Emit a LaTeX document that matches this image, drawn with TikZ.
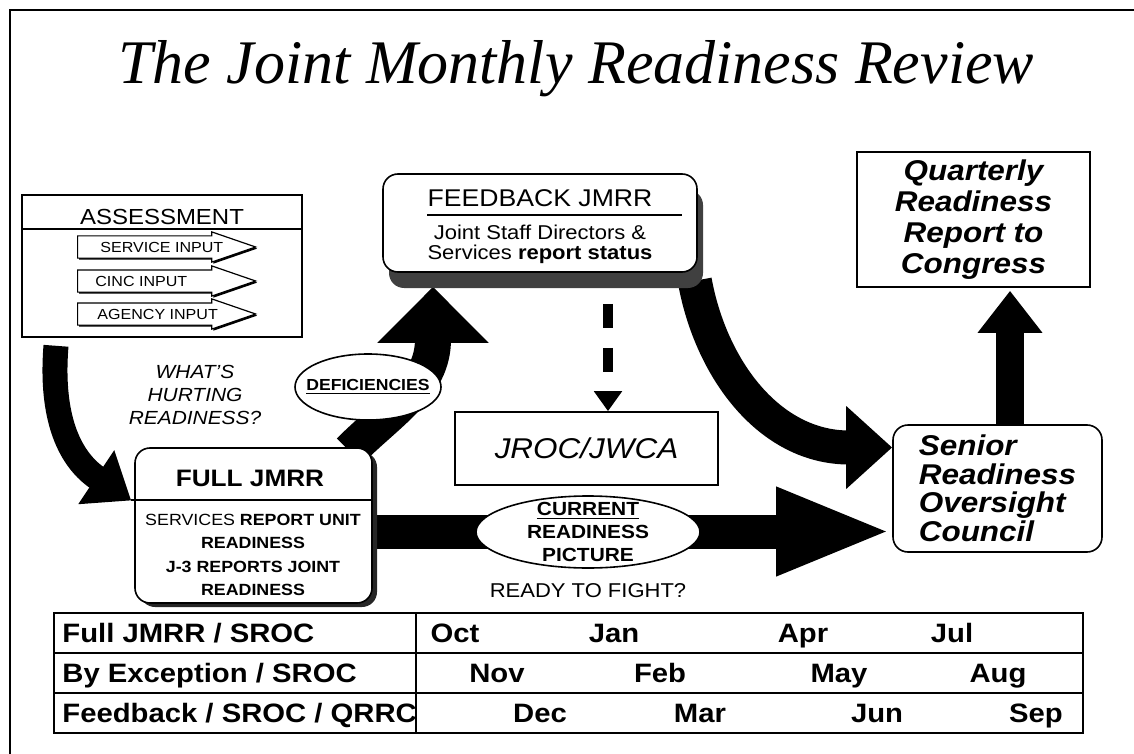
\documentclass[tikz,border=0pt]{standalone}
\usepackage{fontspec}
\setmainfont{Liberation Sans}[FakeStretch=1.1]
\newfontfamily\titlefont{Liberation Serif}
\usetikzlibrary{positioning,arrows.meta,shapes.geometric,shapes.arrows,shadows,backgrounds}

\begin{document}
\begin{tikzpicture}[x=0.5pt,y=-0.5pt,
    every node/.style={inner sep=0pt},
    box/.style={draw,line width=0.8pt,fill=white},
    rbox/.style={box,rounded corners=7.5pt},
    ovalbox/.style={ellipse,draw,line width=0.8pt,fill=white},
    hdrline/.style={line width=1.3pt},
    inarrow/.style={single arrow,draw,fill=white,line width=0.6pt,minimum height=89pt,
      single arrow head extend=2pt,single arrow tip angle=38,text height=5.5pt,text depth=0pt,
      inner ysep=2.5pt,drop shadow={shadow xshift=0.8pt,shadow yshift=-0.8pt,fill=black,opacity=1}},
    inlabel/.style={anchor=west,font=\fontsize{7.3pt}{9pt}\selectfont},
    bigarrow/.style={line width=#1,line cap=butt},
    cell/.style={font=\fontsize{13.3pt}{15pt}\selectfont\bfseries,text height=9.5pt,text depth=0pt}
  ]
  \useasboundingbox (0,0) rectangle (1134,754);
  \draw[line width=0.6pt] (10,754) -- (10,10) -- (1134,10);

  \node[anchor=base,font=\titlefont\itshape\fontsize{31pt}{36pt}\selectfont] (title) at (576,84) {The Joint Monthly Readiness Review};

  \node[box,minimum width=140pt,minimum height=71pt] (assess) at (162,266) {};
  \node[font=\fontsize{10.9pt}{13pt}\selectfont] (asslbl) at (162,217) {ASSESSMENT};
  \draw[hdrline] (assess.west |- 0,229) -- (assess.east |- 0,229);
  \node[inarrow,anchor=tail] (svc) at (77,247) {};
  \node[inlabel] (svclbl) at (100,247) {SERVICE INPUT};
  \node[inarrow,anchor=tail] (cinc) at (77,281) {};
  \node[inlabel] (cinclbl) at (95,281) {CINC INPUT};
  \node[inarrow,anchor=tail] (agy) at (77,314) {};
  \node[inlabel] (agylbl) at (97,314) {AGENCY INPUT};

  \node[rbox,minimum width=157pt,minimum height=49pt,
    drop shadow={shadow xshift=3pt,shadow yshift=-8pt,fill=black!75,opacity=1}] (feedback) at (540,223) {};
  \node[font=\fontsize{12.1pt}{14pt}\selectfont] (fbhead) at (540,198) {FEEDBACK JMRR};
  \draw[hdrline] (427,215) -- (682,215);
  \node[font=\fontsize{10pt}{10pt}\selectfont,align=center] (fbtext) at (540,244) {Joint Staff Directors \&\\Services \textbf{report status}};

  \node[box,minimum width=116.5pt,minimum height=67.5pt,align=center,
    font=\fontsize{14.3pt}{15.5pt}\selectfont\bfseries\itshape] (qr) at (973.5,219.5) {Quarterly\\Readiness\\Report to\\Congress};

  \node[box,minimum width=131.5pt,minimum height=36.5pt,font=\fontsize{14.3pt}{16pt}\selectfont\itshape] (jroc) at (586.5,448.5) {JROC/JWCA};

  \node[rbox,minimum width=118.5pt,minimum height=77.5pt,
    drop shadow={shadow xshift=2.5pt,shadow yshift=-2pt,fill=black!85,opacity=1}] (full) at (253.5,525.5) {};
  \node[font=\fontsize{11.9pt}{14pt}\selectfont\bfseries] (fullhead) at (250,478) {FULL JMRR};
  \draw[hdrline] (131,500) -- (full.east |- 0,500);
  \node[font=\fontsize{8.1pt}{11.7pt}\selectfont,align=center] (fulltext) at (253,555) {SERVICES \textbf{REPORT UNIT}\\\textbf{READINESS}\\\textbf{J-3 REPORTS JOINT}\\\textbf{READINESS}};

  \node[rbox,minimum width=104.5pt,minimum height=63.5pt,align=left,
    font=\fontsize{14.3pt}{14.25pt}\selectfont\bfseries\itshape] (senior) at (997.5,488.5) {Senior\\Readiness\\Oversight\\Council};

  \node[font=\fontsize{9.5pt}{11.5pt}\selectfont\itshape,align=center] (hurt) at (195,395) {WHAT’S\\HURTING\\READINESS?};

  \node[ovalbox,minimum width=73pt,minimum height=33pt] (defic) at (368,387) {};
  \node[font=\fontsize{8pt}{10pt}\selectfont\bfseries] (deficlbl) at (defic) {\underline{DEFICIENCIES}};

  \node[ovalbox,minimum width=112pt,minimum height=36pt] (curr) at (588,532) {};
  \node[font=\fontsize{9.5pt}{11.5pt}\selectfont\bfseries,align=center] (currlbl) at (curr) {\underline{CURRENT}\\READINESS\\PICTURE};
  \node[font=\fontsize{10pt}{12pt}\selectfont,below=7pt of curr] (fight) {READY TO FIGHT?};

  \coordinate (assout) at ([xshift=-53pt,yshift=-4pt]assess.south);
  \coordinate (fullin) at ([xshift=-1.5pt,yshift=12.5pt]full.west);
  \coordinate (fullout) at ([xshift=48pt,yshift=-2pt]full.north);
  \coordinate (fbin) at ([xshift=-53.5pt,yshift=-7pt]feedback.south);
  \coordinate (fbout) at ([xshift=-1.5pt,yshift=-4pt]feedback.south east);
  \coordinate (srin) at ([yshift=20.5pt]senior.west);
  \coordinate (hstart) at ([yshift=-3pt]full.east);
  \coordinate (srup) at ([xshift=6.25pt]senior.north);
  \path (srup |- qr.south) ++(0,3) coordinate (qrin);
  \coordinate (dstart) at ([xshift=34pt,yshift=-10pt]feedback.south);

  \begin{scope}[on background layer]
    \draw[bigarrow=12.5pt,-{Triangle[length=21pt,width=31pt]}] (assout) .. controls +(-6,75) and +(-60,-40) .. (fullin);
    \draw[bigarrow=18pt,-{Triangle[length=28pt,width=54pt]}] (fullout) .. controls +(40,-40) and +(0,100) .. (fbin);
    \draw[bigarrow=17pt,-{Triangle[length=23pt,width=40pt]}] (fbout) .. controls +(16,88) and +(-123,0) .. (srin);
    \draw[bigarrow=17pt,-{Triangle[length=58pt,width=40pt]}] (hstart) -- (senior.west |- hstart);
    \draw[bigarrow=14pt,-{Triangle[length=21pt,width=31pt]}] (srup) -- (qrin);
    \draw[line width=5pt,dash pattern=on 12pt off 10pt,dash phase=16.5pt,-{Triangle[length=10pt,width=13.5pt]}] (dstart) -- (dstart |- jroc.north);
  \end{scope}

  \draw[line width=0.8pt] (54,613) rectangle (1083,733);
  \draw[line width=0.8pt] (54,653) -- (1083,653) (54,693) -- (1083,693) (416,613) -- (416,733);
  \node[cell,anchor=west] (row1) at (62,633) {Full JMRR / SROC};
  \node[cell,anchor=west] (row2) at (62,673) {By Exception / SROC};
  \node[cell,anchor=west] (row3) at (62,713) {Feedback / SROC / QRRC};
  \foreach \m/\x/\y in {Oct/455/633,Jan/614/633,Apr/803/633,Jul/952/633,
                        Nov/497/673,Feb/660/673,May/839/673,Aug/998/673,
                        Dec/540/713,Mar/700/713,Jun/877/713,Sep/1036/713}
    \node[cell] (m\m) at (\x,\y) {\m};
\end{tikzpicture}
\end{document}
